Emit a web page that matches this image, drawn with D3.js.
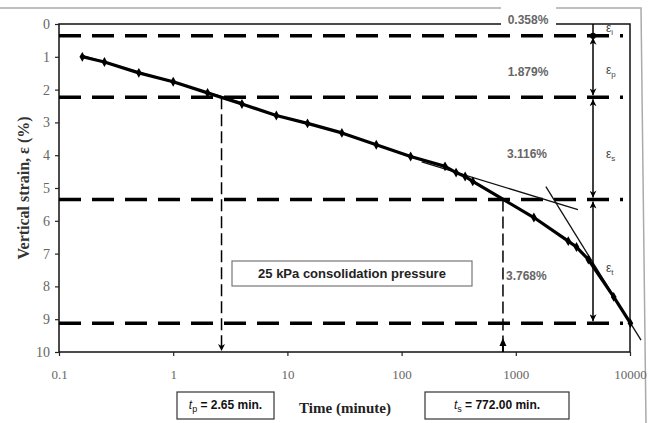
<!DOCTYPE html>
<html>
<head>
<meta charset="utf-8">
<title>Vertical strain vs time</title>
<script src="https://d3js.org/d3.v7.min.js"></script>
<style>
  body { margin: 0; background: #fff; }
  svg { display: block; }
</style>
</head>
<body>
<div class="page"></div>
<script>
// readings (time in minutes, strain in %)
var times   = [0.16, 0.25, 0.5, 1, 2, 4, 8, 15, 30, 60, 120, 240, 300, 360, 420, 1440, 2880, 3400, 4320, 7200, 10080];
var strains = [1.0, 1.16, 1.49, 1.76, 2.1, 2.44, 2.79, 3.03, 3.32, 3.68, 4.04, 4.34, 4.53, 4.65, 4.80, 5.9, 6.62, 6.8, 7.18, 8.32, 9.12];

// strain components (%)
var components = [0.358, 1.879, 3.116, 3.768];
var compLabels = ["0.358%", "1.879%", "3.116%", "3.768%"];
var compSubs   = ["i", "p", "s", "t"];

// tangent lines [t, strain] pairs
var tangentP = [[0.16, 0.96], [4, 2.4]];
var tangentS = [[150, 4.2], [3500, 5.66]];
var tangentT = [[1834, 4.96], [12490, 9.64]];

var tP = 2.65, tS = 772.00;
var xTicks = [0.1, 1, 10, 100, 1000, 10000];
var yTicks = [0, 1, 2, 3, 4, 5, 6, 7, 8, 9, 10];

var width = 652, height = 423;
var pLeft = 59, pRight = 630, pTop = 24, pBottom = 352;

var svg = d3.select(".page")
    .append("svg")
    .attr("width", width)
    .attr("height", height);

var x = d3.scaleLog().domain([0.1, 10000]).range([pLeft, pRight]);
var y = d3.scaleLinear().domain([0, 10]).range([pTop, pBottom]);

var defs = svg.append("defs");
defs.append("marker")
    .attr("id", "tip")
    .attr("viewBox", "0 0 10 10")
    .attr("refX", 10).attr("refY", 5)
    .attr("markerWidth", 8).attr("markerHeight", 7)
    .attr("markerUnits", "userSpaceOnUse")
    .attr("orient", "auto-start-reverse")
    .append("path").attr("d", "M0,0 L10,5 L0,10 L3,5 Z").attr("fill", "#000");

// outer grey frame
svg.append("path")
    .attr("d", "M0,8 L641,8 L646,423")
    .attr("fill", "none")
    .attr("stroke", "#aaa")
    .attr("stroke-width", 1.5);

// plot frame
svg.append("path")
    .attr("d", "M" + pLeft + "," + pBottom + " L" + pLeft + "," + pTop + " L" + pRight + "," + pTop + " L" + pRight + "," + pBottom + " Z")
    .attr("fill", "none")
    .attr("stroke", "#111")
    .attr("stroke-width", 1.5);

// axes
var xAxis = svg.append("g")
    .attr("transform", "translate(0," + pBottom + ")")
    .call(d3.axisBottom(x).tickValues(xTicks).tickSize(4).tickPadding(14)
      .tickFormat(function(d) { return d3.format("~")(d); }));
var yAxis = svg.append("g")
    .attr("transform", "translate(" + pLeft + ",0)")
    .call(d3.axisLeft(y).tickValues(yTicks).tickSize(4).tickPadding(5));

[xAxis, yAxis].forEach(function(a) {
  a.select(".domain").remove();
  a.selectAll("line").attr("stroke", "#222").attr("stroke-width", 1.2);
  a.selectAll("text")
    .attr("font-family", "Liberation Serif, Times New Roman, serif")
    .attr("font-size", 13)
    .attr("fill", "#666");
});
yAxis.selectAll("text").attr("font-size", 14);

// cumulative boundaries of the strain components
var bounds = [];
var acc = 0;
components.forEach(function(c) { acc += c; bounds.push(acc); });

// heavy dashed horizontals
svg.selectAll(".hdash")
    .data(bounds)
    .enter()
    .append("line")
    .attr("class", "hdash")
    .attr("x1", pLeft).attr("x2", 623)
    .attr("y1", function(d) { return y(d); })
    .attr("y2", function(d) { return y(d); })
    .attr("stroke", "#000")
    .attr("stroke-width", 3.5)
    .attr("stroke-dasharray", "22,11");

// vertical dashed drops to the time axis
svg.append("line")
    .attr("x1", x(tP)).attr("x2", x(tP))
    .attr("y1", y(bounds[1])).attr("y2", pBottom - 1)
    .attr("stroke", "#000").attr("stroke-width", 1.5)
    .attr("stroke-dasharray", "12,5")
    .attr("marker-end", "url(#tip)");
svg.append("line")
    .attr("x1", x(tS)).attr("x2", x(tS))
    .attr("y1", y(bounds[2])).attr("y2", pBottom - 12)
    .attr("stroke", "#000").attr("stroke-width", 1.5)
    .attr("stroke-dasharray", "12,5");
svg.append("path")
    .attr("d", "M" + (x(tS) - 3.5) + "," + (pBottom - 6) + " L" + x(tS) + "," + (pBottom - 14) + " L" + (x(tS) + 3.5) + "," + (pBottom - 6) + " Z")
    .attr("fill", "#000");
svg.append("line")
    .attr("x1", x(tS)).attr("x2", x(tS))
    .attr("y1", pBottom - 7).attr("y2", pBottom)
    .attr("stroke", "#000").attr("stroke-width", 2);

// tangent lines
[tangentP, tangentS, tangentT].forEach(function(t) {
  svg.append("line")
      .attr("x1", x(t[0][0])).attr("y1", y(t[0][1]))
      .attr("x2", x(t[1][0])).attr("y2", y(t[1][1]))
      .attr("stroke", "#111")
      .attr("stroke-width", 1.3);
});

// the measured curve
var pts = times.map(function(t, i) { return [t, strains[i]]; });
svg.append("path")
    .datum(pts)
    .attr("fill", "none")
    .attr("stroke", "#000")
    .attr("stroke-width", 3.2)
    .attr("stroke-linejoin", "round")
    .attr("d", d3.line().x(function(d) { return x(d[0]); }).y(function(d) { return y(d[1]); }));
svg.selectAll(".pt")
    .data(pts)
    .enter()
    .append("path")
    .attr("class", "pt")
    .attr("transform", function(d) { return "translate(" + x(d[0]) + "," + y(d[1]) + ")"; })
    .attr("d", d3.symbol().type(d3.symbolDiamond).size(28))
    .attr("fill", "#000");

// right-hand arrows for each component
var ax = 593;
svg.append("line")
    .attr("x1", ax).attr("x2", ax)
    .attr("y1", pTop).attr("y2", y(bounds[0]))
    .attr("stroke", "#000").attr("stroke-width", 1.5);
svg.append("path")
    .attr("transform", "translate(" + ax + "," + y(bounds[0]) + ")")
    .attr("d", d3.symbol().type(d3.symbolCircle).size(30))
    .attr("fill", "#000");
for (var i = 1; i < bounds.length; i++) {
  svg.append("line")
      .attr("x1", ax).attr("x2", ax)
      .attr("y1", y(bounds[i - 1]) + 2).attr("y2", y(bounds[i]) - 2)
      .attr("stroke", "#000").attr("stroke-width", 1.5)
      .attr("marker-start", "url(#tip)")
      .attr("marker-end", "url(#tip)");
}

// epsilon labels
var epsY = [28, 70, 154, 268];
compSubs.forEach(function(s, i) {
  var t = svg.append("text")
      .attr("x", 606).attr("y", epsY[i] + 4)
      .attr("font-family", "Liberation Sans, Arial, sans-serif")
      .attr("font-size", 12)
      .attr("fill", "#444");
  t.append("tspan").text("ε");
  t.append("tspan").attr("font-size", 8).attr("dy", 3).text(s);
});

// percentage labels
svg.append("rect")
    .attr("x", 501).attr("y", 7).attr("width", 55).attr("height", 19)
    .attr("fill", "#fff");
var pctPos = [[528, 24, "middle"], [528, 76, "middle"], [527, 158, "middle"], [506, 280, "start"]];
compLabels.forEach(function(l, i) {
  svg.append("text")
      .attr("x", pctPos[i][0]).attr("y", pctPos[i][1])
      .attr("text-anchor", pctPos[i][2])
      .attr("font-family", "Liberation Sans, Arial, sans-serif")
      .attr("font-size", 12)
      .attr("font-weight", "bold")
      .attr("fill", "#666")
      .text(l);
});

// pressure box
svg.append("rect")
    .attr("x", 232).attr("y", 261).attr("width", 240).attr("height", 25)
    .attr("fill", "#fff").attr("stroke", "#777").attr("stroke-width", 1.2);
svg.append("text")
    .attr("x", 352).attr("y", 278)
    .attr("text-anchor", "middle")
    .attr("font-family", "Liberation Sans, Arial, sans-serif")
    .attr("font-size", 13)
    .attr("font-weight", "bold")
    .attr("fill", "#222")
    .text("25 kPa consolidation pressure");

// time boxes
function timeBox(bx, bw, sub, val) {
  svg.append("rect")
      .attr("x", bx).attr("y", 392).attr("width", bw).attr("height", 27)
      .attr("fill", "#fff").attr("stroke", "#333").attr("stroke-width", 1.2);
  var t = svg.append("text")
      .attr("x", bx + bw / 2).attr("y", 409)
      .attr("text-anchor", "middle")
      .attr("font-family", "Liberation Sans, Arial, sans-serif")
      .attr("font-size", 12)
      .attr("fill", "#111");
  t.append("tspan").attr("font-style", "italic").text("t");
  t.append("tspan").attr("font-size", 9).attr("dy", 3).text(sub);
  t.append("tspan").attr("dy", -3).attr("font-weight", "bold").text(" = " + val + " min.");
}
timeBox(177, 97, "p", d3.format(".2f")(tP));
timeBox(425, 144, "s", d3.format(".2f")(tS));

// axis titles
svg.append("text")
    .attr("x", 345).attr("y", 413)
    .attr("text-anchor", "middle")
    .attr("font-family", "Liberation Serif, Times New Roman, serif")
    .attr("font-size", 15)
    .attr("font-weight", "bold")
    .attr("fill", "#222")
    .text("Time (minute)");
svg.append("text")
    .attr("transform", "translate(29," + ((pTop + pBottom) / 2) + ") rotate(-90)")
    .attr("text-anchor", "middle")
    .attr("font-family", "Liberation Serif, Times New Roman, serif")
    .attr("font-size", 16)
    .attr("font-weight", "bold")
    .attr("fill", "#333")
    .text("Vertical strain, ε (%)");
</script>
</body>
</html>
